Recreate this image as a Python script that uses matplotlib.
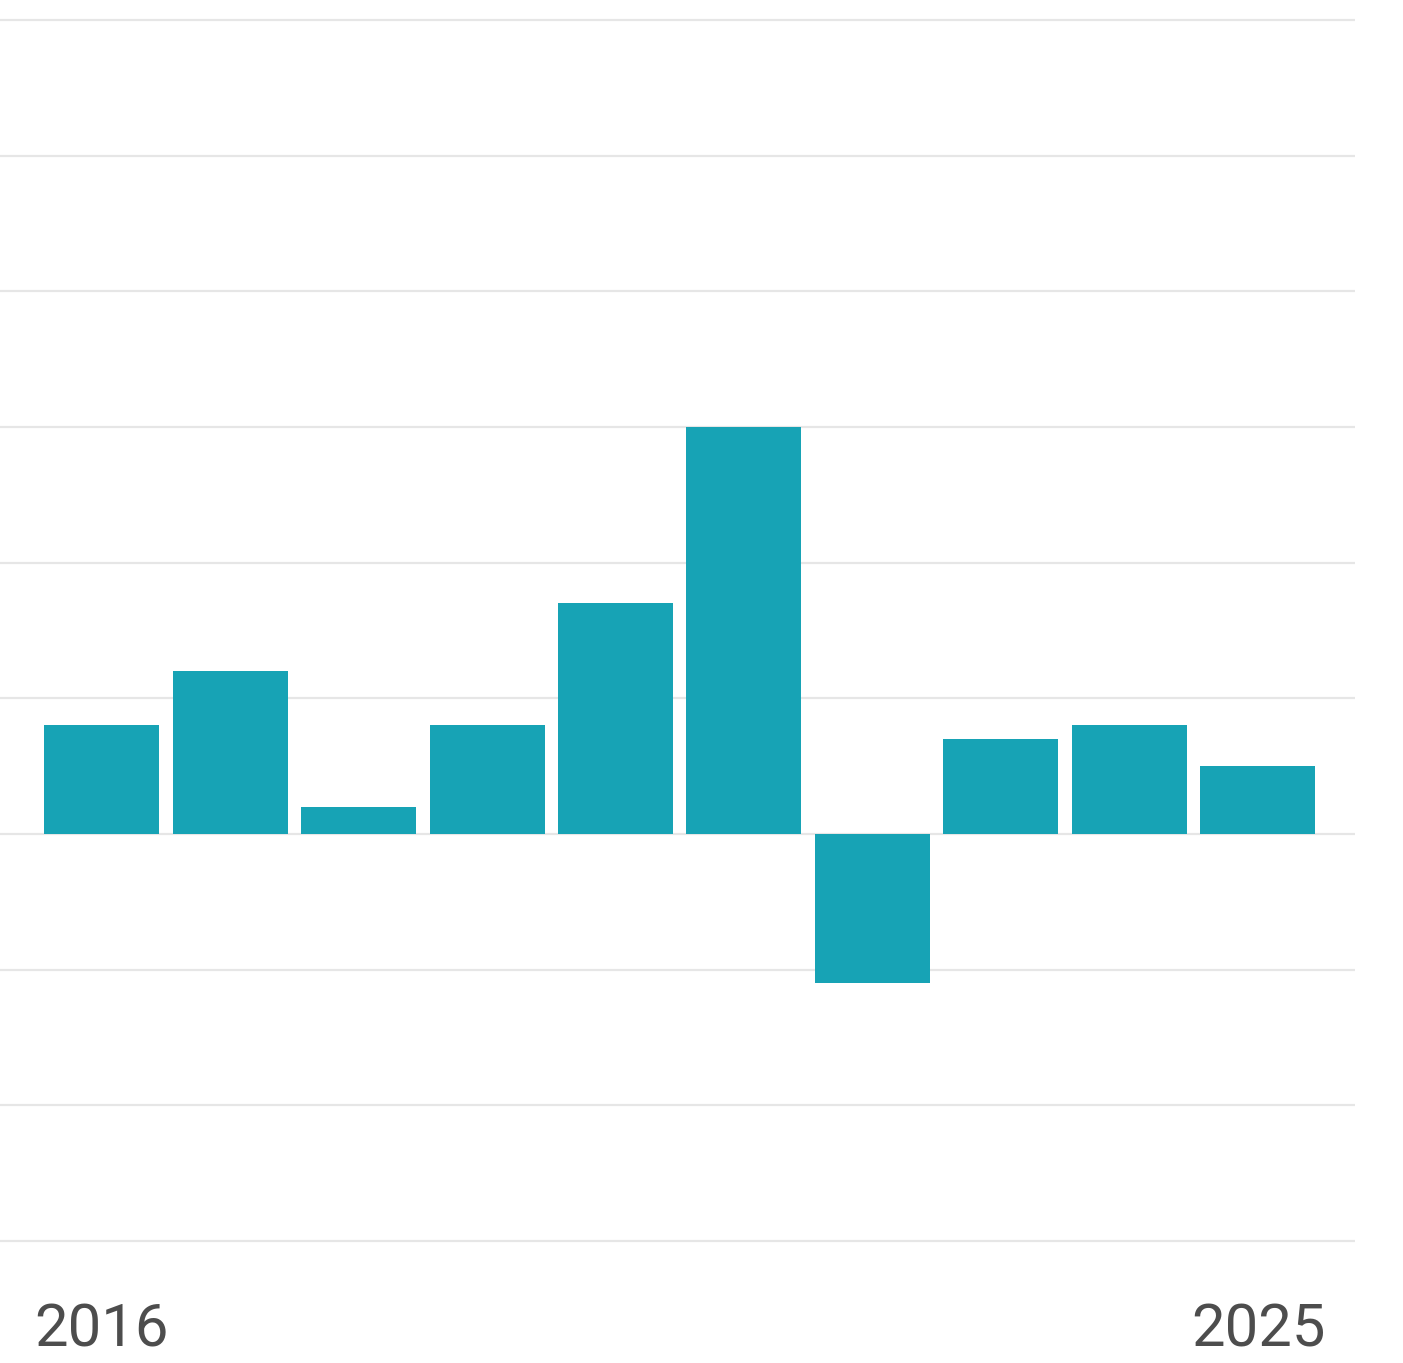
import matplotlib
matplotlib.use("Agg")
import matplotlib.pyplot as plt

years = [2016, 2017, 2018, 2019, 2020, 2021, 2022, 2023, 2024, 2025]
values = [0.8, 1.2, 0.2, 0.8, 1.7, 3.0, -1.1, 0.7, 0.8, 0.5]
gridlines = [-3, -2, -1, 0, 1, 2, 3, 4, 5, 6]
tick_years = [2016, 2025]

W, H = 1403, 1363
fig = plt.figure(figsize=(W / 100, H / 100), dpi=100)
fig.patch.set_facecolor("white")

ppu = (1241 - 20) / 9.0
ext = 0.1
top_px = 20 - ext * ppu
bot_px = 1241 + ext * ppu
ax = fig.add_axes([0, (H - bot_px) / H, 1355 / W, (bot_px - top_px) / H])
ax.set_xlim(2015.21, 2025.755)
ax.set_ylim(-3 - ext, 6 + ext)

for g in gridlines:
    ax.axhline(g, color="#e6e6e6", linewidth=1.6, zorder=1)

ax.bar(years, values, width=0.895, color="#17a3b5", zorder=2)

ax.set_xticks(tick_years)
ax.set_xticklabels([str(y) for y in tick_years], fontsize=43, color="#4d4d4d",
                   fontfamily="Roboto")
ax.tick_params(axis="x", length=0, pad=34)
ax.set_yticks([])
for s in ax.spines.values():
    s.set_visible(False)
ax.set_facecolor("white")

fig.savefig("out.png", dpi=100, facecolor="white")
